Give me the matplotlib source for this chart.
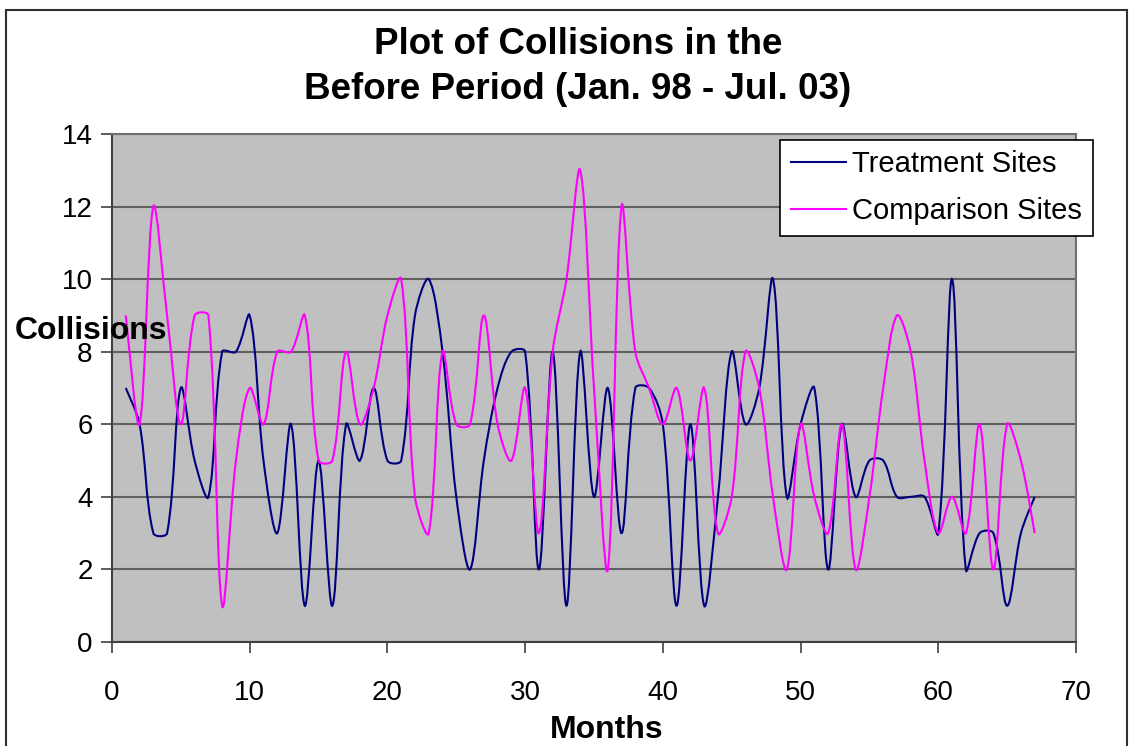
import numpy as np
import matplotlib.pyplot as plt
from matplotlib.path import Path
from matplotlib.patches import PathPatch, Rectangle
from matplotlib.lines import Line2D

plt.rcParams['font.family'] = ['Liberation Sans', 'DejaVu Sans']

months = np.arange(1, 68)
treatment = [7, 6, 3, 3, 7, 5, 4, 8, 8, 9,
             5, 3, 6, 1, 5, 1, 6, 5, 7, 5,
             5, 9, 10, 8, 4, 2, 5, 7, 8, 8,
             2, 8, 1, 8, 4, 7, 3, 7, 7, 6,
             1, 6, 1, 4, 8, 6, 7, 10, 4, 6,
             7, 2, 6, 4, 5, 5, 4, 4, 4, 3,
             10, 2, 3, 3, 1, 3, 4]
comparison = [9, 6, 12, 9, 6, 9, 9, 1, 5, 7,
              6, 8, 8, 9, 5, 5, 8, 6, 7, 9,
              10, 4, 3, 8, 6, 6, 9, 6, 5, 7,
              3, 8, 10, 13, 7, 2, 12, 8, 7, 6,
              7, 5, 7, 3, 4, 8, 7, 4, 2, 6,
              4, 3, 6, 2, 4, 7, 9, 8, 5, 3,
              4, 3, 6, 2, 6, 5, 3]
series_names = ['Treatment Sites', 'Comparison Sites']
colors = ['#000080', '#FF00FF']

W, H = 1130, 746
ax_box = [112, 134, 1076, 642]  # left, top, right, bottom in pixels
xlim, ylim = (0, 70), (0, 14)


def smooth_path(x, y, sy):
    # excel-like smoothed line: bezier segments, control points weighted by
    # chord length (measured with y scaled to screen aspect)
    p = np.column_stack([x, y]).astype(float)
    q = p * [1, sy]
    n = len(p)
    d = np.hypot(*np.diff(q, axis=0).T)
    tan = np.zeros_like(p)
    tan[1:-1] = p[2:] - p[:-2]
    tan[0] = p[1] - p[0]
    tan[-1] = p[-1] - p[-2]
    verts = [p[0]]
    codes = [Path.MOVETO]
    for i in range(n - 1):
        d0 = d[i - 1] if i > 0 else d[i]
        d2 = d[i + 1] if i + 1 < n - 1 else d[i]
        c1 = p[i] + tan[i] / 3 * d[i] / (d0 + d[i])
        c2 = p[i + 1] - tan[i + 1] / 3 * d[i] / (d[i] + d2)
        verts += [c1, c2, p[i + 1]]
        codes += [Path.CURVE4] * 3
    return Path(verts, codes)


fig = plt.figure(figsize=(W / 100, H / 100), dpi=100)
ax = fig.add_axes([ax_box[0] / W, 1 - ax_box[3] / H,
                   (ax_box[2] - ax_box[0]) / W, (ax_box[3] - ax_box[1]) / H])
ax.set_facecolor('#C0C0C0')
ax.set_xlim(*xlim)
ax.set_ylim(*ylim)

sy = ((ax_box[3] - ax_box[1]) / (ylim[1] - ylim[0])) / ((ax_box[2] - ax_box[0]) / (xlim[1] - xlim[0]))
for vals, c in zip([treatment, comparison], colors):
    ax.add_patch(PathPatch(smooth_path(months, vals, sy), facecolor='none',
                           edgecolor=c, lw=1.5, zorder=3))

ax.set_xticks(range(0, 71, 10))
ax.set_yticks(range(0, 15, 2))
ax.grid(axis='y', color='#606060', lw=1.5)
ax.set_axisbelow(True)
ax.tick_params(labelsize=20, length=8, width=1.2, color='#404040', pad=6)
ax.tick_params(axis='x', pad=19)
for s in ['top', 'right']:
    ax.spines[s].set_color('#707070')
    ax.spines[s].set_linewidth(1.5)
for s in ['left', 'bottom']:
    ax.spines[s].set_color('#404040')
    ax.spines[s].set_linewidth(1.5)

handles = [Line2D([], [], color=c, lw=1.5) for c in colors]
leg = fig.legend(handles, series_names, loc='upper left',
                 bbox_to_anchor=(780 / W, 1 - 140 / H),
                 fontsize=21, frameon=True, fancybox=False, handlelength=1.9,
                 borderpad=0.36, labelspacing=0.64, handletextpad=0.22,
                 borderaxespad=0, framealpha=1)
leg.get_frame().set_edgecolor('black')
leg.get_frame().set_facecolor('white')
leg.get_frame().set_linewidth(1.2)

fig.text(578 / W, 1 - 67 / H, 'Plot of Collisions in the\nBefore Period (Jan. 98 - Jul. 03)',
         ha='center', va='center', fontsize=26.5, fontweight='bold', linespacing=1.4)
fig.text(15 / W, 1 - 331 / H, 'Collisions', ha='left', va='center',
         fontsize=23, fontweight='bold')
fig.text(607 / W, 1 - 730 / H, 'Months', ha='center', va='center',
         fontsize=23, fontweight='bold')

fig.add_artist(Rectangle((6 / W, -0.01), 1121 / W, 0.003 + 1 - 5 / H,
                         transform=fig.transFigure, fill=False,
                         edgecolor='#303030', lw=1.5))

fig.savefig('out.png', dpi=100)
